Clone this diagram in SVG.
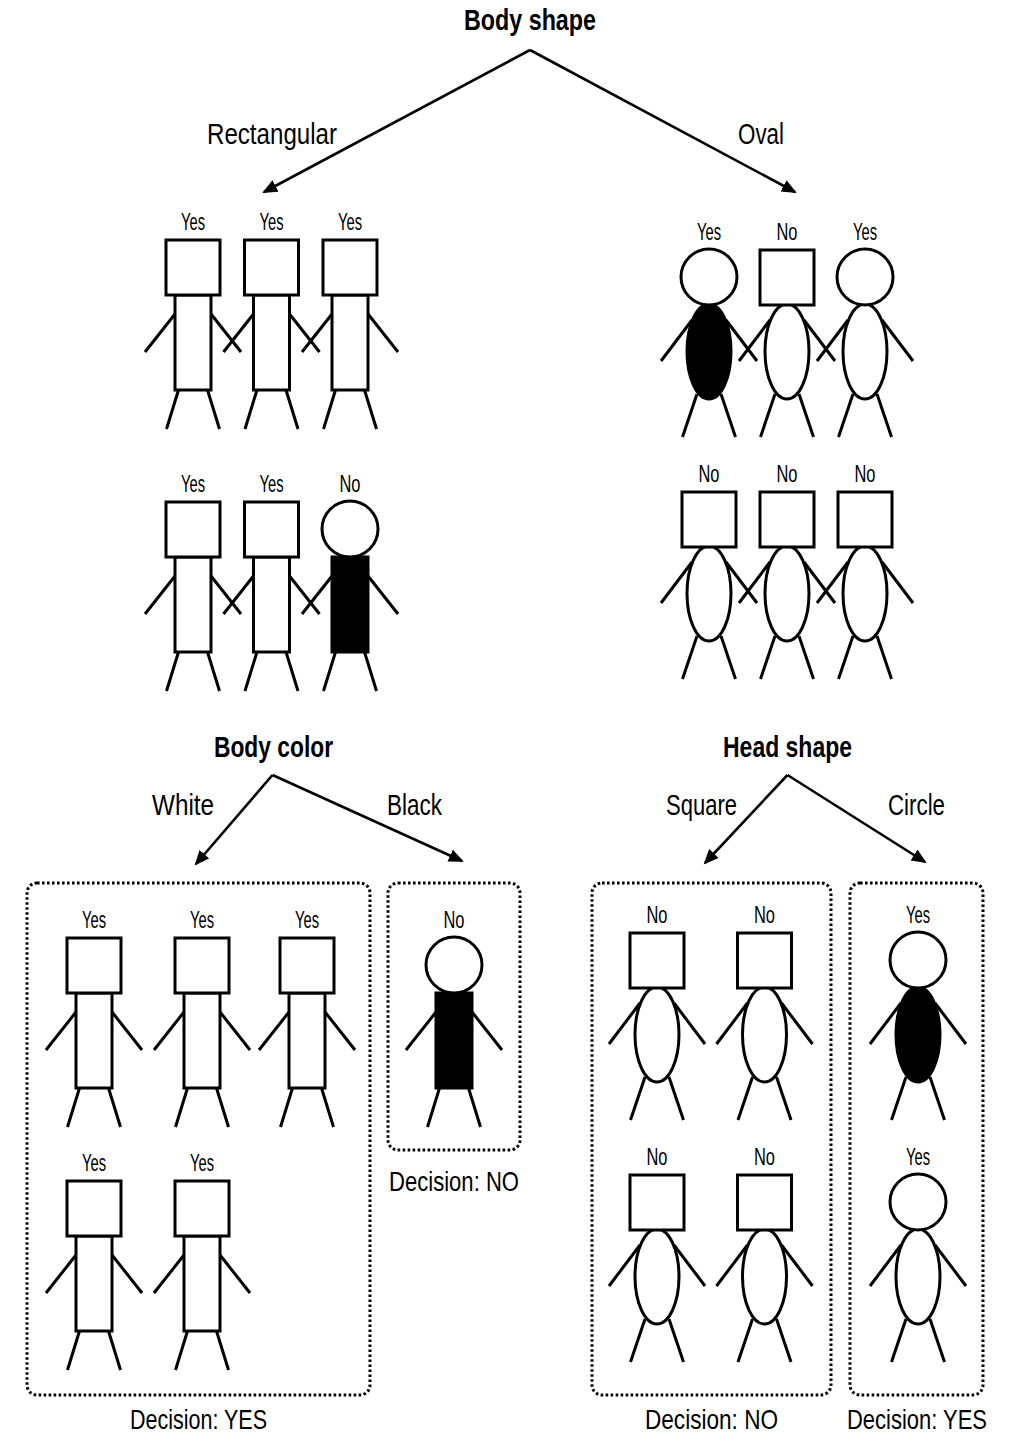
<svg xmlns="http://www.w3.org/2000/svg" xmlns:xlink="http://www.w3.org/1999/xlink" width="1015" height="1440" viewBox="0 0 1015 1440">
  <style>
    .fig { stroke: #000; stroke-width: 3; fill: none; }
    .w { fill: #fff; }
    .k { fill: #000; }
    text { text-anchor: middle; }
    .lbl { font-family: "Liberation Sans Narrow", "Liberation Sans", Arial, sans-serif; font-size: 24px; fill: #000; stroke: none; }
    .cap { font-family: "Liberation Sans Narrow", "Liberation Sans", Arial, sans-serif; font-size: 30px; fill: #000; }
    .dec { font-family: "Liberation Sans Narrow", "Liberation Sans", Arial, sans-serif; font-size: 28px; fill: #000; }
    .ttl { font-family: "Liberation Sans Narrow", "Liberation Sans", Arial, sans-serif; font-size: 30px; font-weight: bold; fill: #000; }
    .conn { stroke: #000; stroke-width: 2.6; fill: none; marker-end: url(#arrow); }
    .box { fill: none; stroke: #000; stroke-width: 3; stroke-dasharray: 2.6 2.4; }
  </style>
  <defs>
    <marker id="arrow" markerUnits="userSpaceOnUse" markerWidth="16" markerHeight="14" refX="13" refY="6.5" orient="auto">
      <path d="M0,0 L15,6.5 L0,13 z" fill="#000" stroke="none"/>
    </marker>
    <!-- figure parts, origin = head centre x, head top y -->
    <path id="limbsRect" d="M-18,74 L-48,112 M18,74 L48,112 M-14.5,150 L-26.5,189 M14.5,150 L26.5,189"/>
    <path id="limbsOval" d="M-17,70 L-48,111 M17,70 L48,111 M-12,144 L-26.5,187 M12,144 L26.5,187"/>
    <rect id="sqHead" x="-27" y="0" width="54" height="55"/>
    <circle id="rdHead" cx="0" cy="27" r="28"/>
    <rect id="rectBody" x="-18" y="55" width="36" height="95"/>
    <ellipse id="ovalBody" cx="0" cy="101.5" rx="22" ry="47.5"/>
  </defs>

  <rect width="1015" height="1440" fill="#fff"/>

  <!-- split headings and branch labels -->
  <g id="split-body-shape">
    <text class="ttl" x="530" y="30" textLength="132" lengthAdjust="spacingAndGlyphs">Body shape</text>
    <text class="cap" x="272" y="144" textLength="130" lengthAdjust="spacingAndGlyphs">Rectangular</text>
    <text class="cap" x="761" y="144" textLength="46" lengthAdjust="spacingAndGlyphs">Oval</text>
  </g>
  <g id="split-body-color">
    <text class="ttl" x="273.5" y="757" textLength="119" lengthAdjust="spacingAndGlyphs">Body color</text>
    <text class="cap" x="183" y="815" textLength="62" lengthAdjust="spacingAndGlyphs">White</text>
    <text class="cap" x="414.5" y="815" textLength="55" lengthAdjust="spacingAndGlyphs">Black</text>
  </g>
  <g id="split-head-shape">
    <text class="ttl" x="787.5" y="757" textLength="129" lengthAdjust="spacingAndGlyphs">Head shape</text>
    <text class="cap" x="701.5" y="815" textLength="71" lengthAdjust="spacingAndGlyphs">Square</text>
    <text class="cap" x="916.5" y="815" textLength="57" lengthAdjust="spacingAndGlyphs">Circle</text>
  </g>

  <!-- connectors -->
  <g id="connectors">
    <path class="conn" d="M530,50 L264,192"/>
    <path class="conn" d="M530,50 L795,192"/>
    <path class="conn" d="M272.5,775 L196,864"/>
    <path class="conn" d="M272.5,775 L462,861"/>
    <path class="conn" d="M787.5,775 L705,863"/>
    <path class="conn" d="M787.5,775 L925,862"/>
  </g>

  <!-- leaf boxes -->
  <g id="leaf-white">
    <rect class="box" x="27" y="883" width="343" height="512" rx="10"/>
    <text class="dec" x="198.5" y="1429" textLength="137" lengthAdjust="spacingAndGlyphs">Decision: YES</text>
  </g>
  <g id="leaf-black">
    <rect class="box" x="388" y="883" width="132" height="267" rx="10"/>
    <text class="dec" x="454" y="1191" textLength="130" lengthAdjust="spacingAndGlyphs">Decision: NO</text>
  </g>
  <g id="leaf-square">
    <rect class="box" x="592" y="883" width="239" height="512" rx="10"/>
    <text class="dec" x="711.5" y="1429" textLength="133" lengthAdjust="spacingAndGlyphs">Decision: NO</text>
  </g>
  <g id="leaf-circle">
    <rect class="box" x="850" y="883" width="133" height="512" rx="10"/>
    <text class="dec" x="917" y="1429" textLength="140" lengthAdjust="spacingAndGlyphs">Decision: YES</text>
  </g>

  <!-- rectangular bodies, row 1 -->
  <g id="p-r1-a" transform="translate(193,240)">
    <g class="fig"><use href="#limbsRect"/><use href="#rectBody" class="w"/><use href="#sqHead" class="w"/></g>
    <text class="lbl" x="0" y="-10" textLength="24" lengthAdjust="spacingAndGlyphs">Yes</text>
  </g>
  <g id="p-r1-b" transform="translate(271.5,240)">
    <g class="fig"><use href="#limbsRect"/><use href="#rectBody" class="w"/><use href="#sqHead" class="w"/></g>
    <text class="lbl" x="0" y="-10" textLength="24" lengthAdjust="spacingAndGlyphs">Yes</text>
  </g>
  <g id="p-r1-c" transform="translate(350,240)">
    <g class="fig"><use href="#limbsRect"/><use href="#rectBody" class="w"/><use href="#sqHead" class="w"/></g>
    <text class="lbl" x="0" y="-10" textLength="24" lengthAdjust="spacingAndGlyphs">Yes</text>
  </g>

  <!-- rectangular bodies, row 2 -->
  <g id="p-r2-a" transform="translate(193,502)">
    <g class="fig"><use href="#limbsRect"/><use href="#rectBody" class="w"/><use href="#sqHead" class="w"/></g>
    <text class="lbl" x="0" y="-10" textLength="24" lengthAdjust="spacingAndGlyphs">Yes</text>
  </g>
  <g id="p-r2-b" transform="translate(271.5,502)">
    <g class="fig"><use href="#limbsRect"/><use href="#rectBody" class="w"/><use href="#sqHead" class="w"/></g>
    <text class="lbl" x="0" y="-10" textLength="24" lengthAdjust="spacingAndGlyphs">Yes</text>
  </g>
  <g id="p-r2-c" transform="translate(350,502)">
    <g class="fig"><use href="#limbsRect"/><use href="#rectBody" class="k"/><use href="#rdHead" class="w"/></g>
    <text class="lbl" x="0" y="-10" textLength="21" lengthAdjust="spacingAndGlyphs">No</text>
  </g>

  <!-- oval bodies, row 1 -->
  <g id="p-o1-a" transform="translate(709,250)">
    <g class="fig"><use href="#limbsOval"/><use href="#ovalBody" class="k"/><use href="#rdHead" class="w"/></g>
    <text class="lbl" x="0" y="-10" textLength="24" lengthAdjust="spacingAndGlyphs">Yes</text>
  </g>
  <g id="p-o1-b" transform="translate(787,250)">
    <g class="fig"><use href="#limbsOval"/><use href="#ovalBody" class="w"/><use href="#sqHead" class="w"/></g>
    <text class="lbl" x="0" y="-10" textLength="21" lengthAdjust="spacingAndGlyphs">No</text>
  </g>
  <g id="p-o1-c" transform="translate(865,250)">
    <g class="fig"><use href="#limbsOval"/><use href="#ovalBody" class="w"/><use href="#rdHead" class="w"/></g>
    <text class="lbl" x="0" y="-10" textLength="24" lengthAdjust="spacingAndGlyphs">Yes</text>
  </g>

  <!-- oval bodies, row 2 -->
  <g id="p-o2-a" transform="translate(709,492)">
    <g class="fig"><use href="#limbsOval"/><use href="#ovalBody" class="w"/><use href="#sqHead" class="w"/></g>
    <text class="lbl" x="0" y="-10" textLength="21" lengthAdjust="spacingAndGlyphs">No</text>
  </g>
  <g id="p-o2-b" transform="translate(787,492)">
    <g class="fig"><use href="#limbsOval"/><use href="#ovalBody" class="w"/><use href="#sqHead" class="w"/></g>
    <text class="lbl" x="0" y="-10" textLength="21" lengthAdjust="spacingAndGlyphs">No</text>
  </g>
  <g id="p-o2-c" transform="translate(865,492)">
    <g class="fig"><use href="#limbsOval"/><use href="#ovalBody" class="w"/><use href="#sqHead" class="w"/></g>
    <text class="lbl" x="0" y="-10" textLength="21" lengthAdjust="spacingAndGlyphs">No</text>
  </g>

  <!-- white-body leaf -->
  <g id="p-w-1" transform="translate(94,938)">
    <g class="fig"><use href="#limbsRect"/><use href="#rectBody" class="w"/><use href="#sqHead" class="w"/></g>
    <text class="lbl" x="0" y="-10" textLength="24" lengthAdjust="spacingAndGlyphs">Yes</text>
  </g>
  <g id="p-w-2" transform="translate(202,938)">
    <g class="fig"><use href="#limbsRect"/><use href="#rectBody" class="w"/><use href="#sqHead" class="w"/></g>
    <text class="lbl" x="0" y="-10" textLength="24" lengthAdjust="spacingAndGlyphs">Yes</text>
  </g>
  <g id="p-w-3" transform="translate(307,938)">
    <g class="fig"><use href="#limbsRect"/><use href="#rectBody" class="w"/><use href="#sqHead" class="w"/></g>
    <text class="lbl" x="0" y="-10" textLength="24" lengthAdjust="spacingAndGlyphs">Yes</text>
  </g>
  <g id="p-w-4" transform="translate(94,1181)">
    <g class="fig"><use href="#limbsRect"/><use href="#rectBody" class="w"/><use href="#sqHead" class="w"/></g>
    <text class="lbl" x="0" y="-10" textLength="24" lengthAdjust="spacingAndGlyphs">Yes</text>
  </g>
  <g id="p-w-5" transform="translate(202,1181)">
    <g class="fig"><use href="#limbsRect"/><use href="#rectBody" class="w"/><use href="#sqHead" class="w"/></g>
    <text class="lbl" x="0" y="-10" textLength="24" lengthAdjust="spacingAndGlyphs">Yes</text>
  </g>

  <!-- black-body leaf -->
  <g id="p-b-1" transform="translate(454,938)">
    <g class="fig"><use href="#limbsRect"/><use href="#rectBody" class="k"/><use href="#rdHead" class="w"/></g>
    <text class="lbl" x="0" y="-10" textLength="21" lengthAdjust="spacingAndGlyphs">No</text>
  </g>

  <!-- square-head leaf -->
  <g id="p-s-1" transform="translate(657,933)">
    <g class="fig"><use href="#limbsOval"/><use href="#ovalBody" class="w"/><use href="#sqHead" class="w"/></g>
    <text class="lbl" x="0" y="-10" textLength="21" lengthAdjust="spacingAndGlyphs">No</text>
  </g>
  <g id="p-s-2" transform="translate(764.5,933)">
    <g class="fig"><use href="#limbsOval"/><use href="#ovalBody" class="w"/><use href="#sqHead" class="w"/></g>
    <text class="lbl" x="0" y="-10" textLength="21" lengthAdjust="spacingAndGlyphs">No</text>
  </g>
  <g id="p-s-3" transform="translate(657,1175)">
    <g class="fig"><use href="#limbsOval"/><use href="#ovalBody" class="w"/><use href="#sqHead" class="w"/></g>
    <text class="lbl" x="0" y="-10" textLength="21" lengthAdjust="spacingAndGlyphs">No</text>
  </g>
  <g id="p-s-4" transform="translate(764.5,1175)">
    <g class="fig"><use href="#limbsOval"/><use href="#ovalBody" class="w"/><use href="#sqHead" class="w"/></g>
    <text class="lbl" x="0" y="-10" textLength="21" lengthAdjust="spacingAndGlyphs">No</text>
  </g>

  <!-- circle-head leaf -->
  <g id="p-c-1" transform="translate(918,933)">
    <g class="fig"><use href="#limbsOval"/><use href="#ovalBody" class="k"/><use href="#rdHead" class="w"/></g>
    <text class="lbl" x="0" y="-10" textLength="24" lengthAdjust="spacingAndGlyphs">Yes</text>
  </g>
  <g id="p-c-2" transform="translate(918,1175)">
    <g class="fig"><use href="#limbsOval"/><use href="#ovalBody" class="w"/><use href="#rdHead" class="w"/></g>
    <text class="lbl" x="0" y="-10" textLength="24" lengthAdjust="spacingAndGlyphs">Yes</text>
  </g>
</svg>
